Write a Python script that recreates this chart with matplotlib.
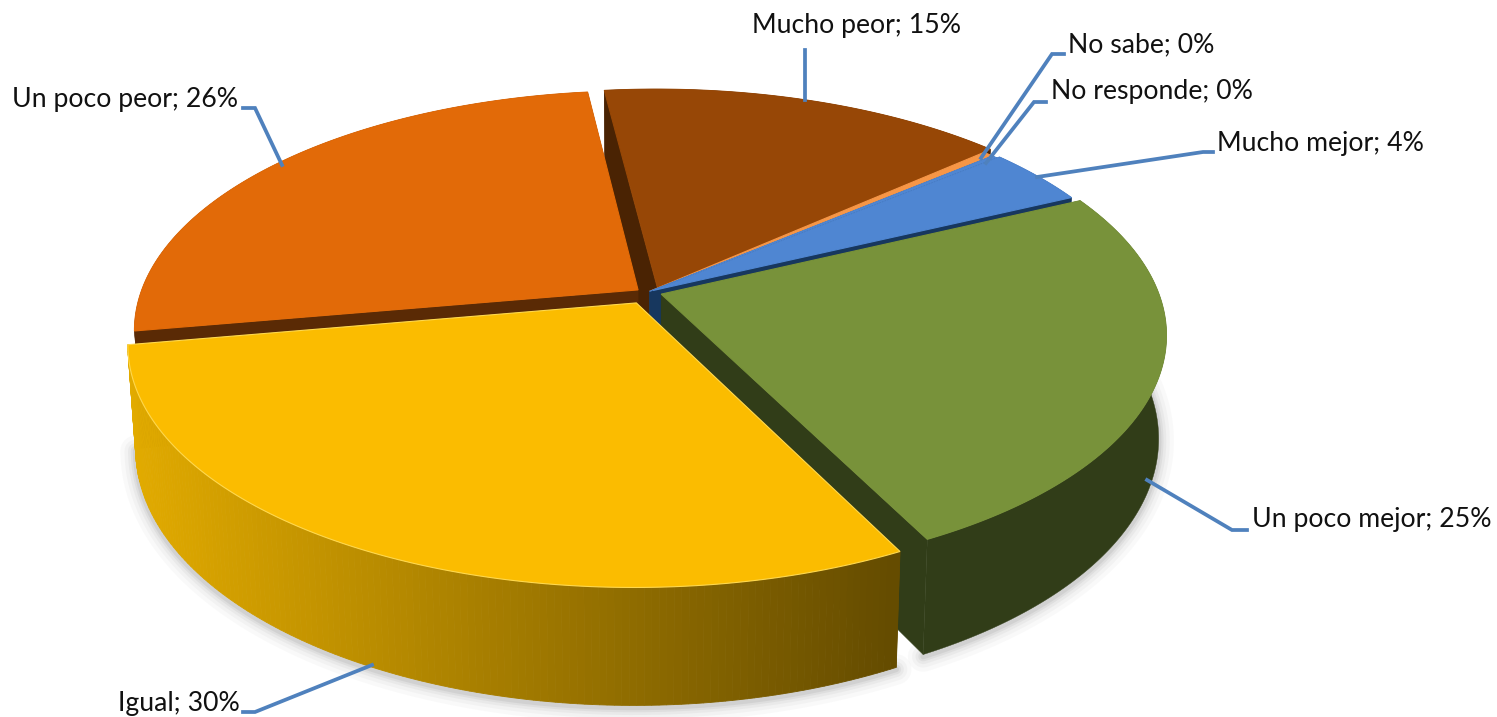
import numpy as np
import matplotlib
matplotlib.use('Agg')
import matplotlib.pyplot as plt
from matplotlib.colors import to_rgb

categories = ['Mucho mejor', 'Un poco mejor', 'Igual', 'Un poco peor', 'Mucho peor', 'No sabe', 'No responde']
values = [3.9, 24.6, 29.7, 25.8, 15.4, 0.4, 0.2]

top_colors = ['#4F86D2', '#78923A', '#FBBC00', '#E26A08', '#974706', '#F79646', '#4F86D2']
wall_colors = ['#17375E', '#313D18', '#6B5000', '#5A2A05', '#4A2303', '#7A3E0A', '#17375E']
explode = [0.012, 0.028, 0.052, 0.015, 0.02, 0.004, 0.004]
shift_x = [0, 0, 0, -0.008, 0.012, 0, 0]

# 标签位置 (文字左端, 中线) 和引线
label_pos = [(1217, 143), (1252, 520), (118, 703), (12, 100), (752, 25), (1068, 45), (1051, 91)]
leaders = [
    [(1037, 177), (1203, 152), (1213, 152)],
    [(1147, 480), (1232, 530), (1247, 530)],
    [(372, 665), (255, 712), (243, 712)],
    [(282, 165), (255, 108), (243, 108)],
    [(805, 100), (805, 50)],
    [(981, 158), (1052, 54), (1064, 54)],
    [(986, 163), (1034, 102), (1046, 102)],
]

# 透视参数
CX, CY = 648, 292
RX, RY = 497, 233
P = 0.167
H = 101
SHRINK = 0.985
START = 50.6


def project(theta, r, off, z=0.0):
    t = np.radians(theta)
    b = np.radians(off[0])
    x = r * np.sin(t) + off[1] * np.sin(b) + off[2]
    y = r * np.cos(t) + off[1] * np.cos(b)
    s = 1 / (1 + P * y)
    k = 1 - (1 - SHRINK) * z
    return CX + RX * x * s * k, CY - RY * y * s * k + H * z * s


fig, ax = plt.subplots(figsize=(14.97, 7.17), dpi=100)
fig.subplots_adjust(0, 0, 1, 1)
ax.set_xlim(0, 1497)
ax.set_ylim(717, 0)
ax.axis('off')

bounds = START + np.cumsum([0] + values) * 3.6
slices = []
for i, cat in enumerate(categories):
    a0, a1 = bounds[i], bounds[i + 1]
    slices.append(dict(i=i, a0=a0, a1=a1, off=((a0 + a1) / 2, explode[i], shift_x[i])))

# 阴影
for i in [1, 2]:
    s = slices[i]
    th = np.linspace(s['a0'], s['a1'], 150)
    bx, by = project(th, 1.0, s['off'], 1.0)
    for w, al in zip([22, 16, 11, 7, 4], [0.03, 0.04, 0.05, 0.07, 0.09]):
        ax.plot(bx, by + 2, color='#555555', lw=w, alpha=al, zorder=1, solid_capstyle='round')

# 从后往前画
draw_order = [4, 5, 6, 0, 3, 1, 2]
z = 2
for i in draw_order:
    s = slices[i]
    a0, a1, off = s['a0'], s['a1'], s['off']
    th = np.linspace(a0, a1, 150)
    wall = wall_colors[i]

    # 径向侧面
    for a in (a0, a1):
        ax_, ay_ = project(a, 0.0, off)
        rx_, ry_ = project(a, 1.0, off)
        bx_, by_ = project(a, 1.0, off, 1.0)
        cx_, cy_ = project(a, 0.0, off, 1.0)
        ax.fill([ax_, rx_, bx_, cx_], [ay_, ry_, by_, cy_], color=wall, lw=0.3, zorder=z)

    # 外侧面
    tx, ty = project(th, 1.0, off)
    bx, by = project(th, 1.0, off, 1.0)
    if i == 2:
        light, dark = np.array(to_rgb('#E2AB00')), np.array(to_rgb('#654C00'))
        for j in range(len(th) - 1):
            f = np.clip((bx[j] - 135) / (890 - 135), 0, 1)
            c = light + (dark - light) * f
            ax.fill([tx[j], tx[j + 1], bx[j + 1], bx[j]], [ty[j], ty[j + 1], by[j + 1], by[j]],
                    color=c, lw=0.6, zorder=z)
    else:
        ax.fill(np.r_[tx, bx[::-1]], np.r_[ty, by[::-1]], color=wall, lw=0.3, zorder=z)

    # 顶面
    ox, oy = project(a0, 0.0, off)
    edge = '#FFD84D' if i == 2 else top_colors[i]
    ax.fill(np.r_[ox, tx], np.r_[oy, ty], facecolor=top_colors[i], edgecolor=edge, lw=0.8, zorder=z + 1)
    z += 2

# 引线和标签
for cat, val, pos, line in zip(categories, values, label_pos, leaders):
    lx, ly = zip(*line)
    ax.plot(lx, ly, color='#4F81BD', lw=2.7, zorder=30, solid_joinstyle='miter')
    ax.text(pos[0], pos[1], f'{cat}; {round(val)}%', family='Lato', fontsize=19.2,
            color='#111111', va='center', ha='left', zorder=31)

fig.savefig('out.png', dpi=100, facecolor='white')
